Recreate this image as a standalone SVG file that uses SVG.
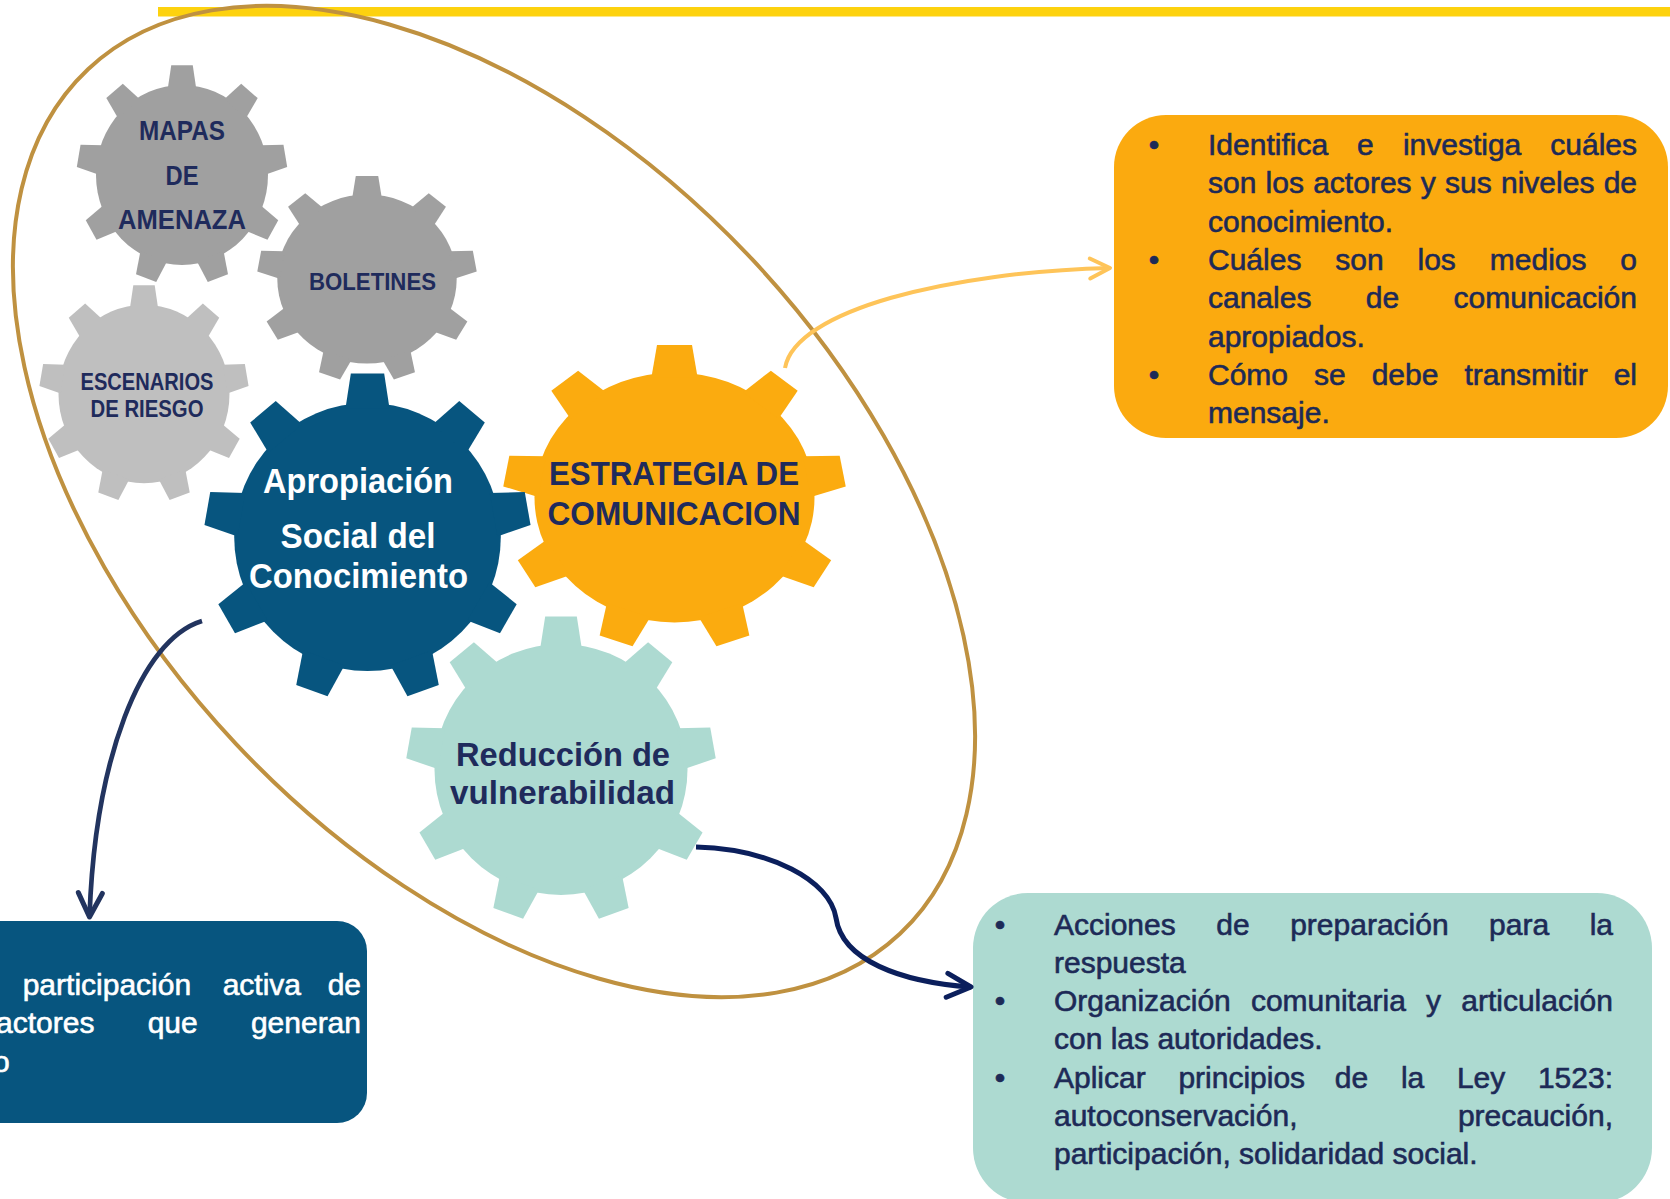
<svg xmlns="http://www.w3.org/2000/svg" width="1670" height="1199" viewBox="0 0 1670 1199">
<style>
.gt{font-family:"Liberation Sans",Arial,sans-serif;font-weight:bold;text-anchor:middle;fill:#1F2B5C}
.gw{fill:#FFFFFF}
.bt{font-family:"Liberation Sans",Arial,sans-serif;font-size:30px;fill:#1D2A57;stroke:#1D2A57;stroke-width:0.6px}
.bw{fill:#FFFFFF;stroke:#FFFFFF}
.e{text-anchor:end}
.m{text-anchor:middle}
.conn{fill:none;stroke-linecap:butt}
</style>
<defs>
<g id="gear">
<circle r="100"/>
<polygon id="tooth" points="-16.5,-96 -12.5,-122 12.5,-122 16.5,-96"/>
<use href="#tooth" transform="rotate(40)"/>
<use href="#tooth" transform="rotate(80)"/>
<use href="#tooth" transform="rotate(120)"/>
<use href="#tooth" transform="rotate(160)"/>
<use href="#tooth" transform="rotate(200)"/>
<use href="#tooth" transform="rotate(240)"/>
<use href="#tooth" transform="rotate(280)"/>
<use href="#tooth" transform="rotate(320)"/>
</g>
<marker id="arrOrange" markerUnits="userSpaceOnUse" viewBox="-30 -16 34 32" markerWidth="34" markerHeight="32" refX="0" refY="0" orient="auto">
<path d="M-20,-10 L0,0 L-20,10" fill="none" stroke="#FEC459" stroke-width="4" stroke-linecap="round" stroke-linejoin="round"/>
</marker>
<marker id="arrNavy" markerUnits="userSpaceOnUse" viewBox="-30 -16 34 32" markerWidth="34" markerHeight="32" refX="0" refY="0" orient="auto">
<path d="M-24,-12 L0,0 L-24,12" fill="none" stroke="#22345F" stroke-width="5" stroke-linecap="round" stroke-linejoin="round"/>
</marker>
<marker id="arrNavy2" markerUnits="userSpaceOnUse" viewBox="-30 -16 34 32" markerWidth="34" markerHeight="32" refX="0" refY="0" orient="auto">
<path d="M-24,-12 L0,0 L-24,12" fill="none" stroke="#0B1F5C" stroke-width="5" stroke-linecap="round" stroke-linejoin="round"/>
</marker>
</defs>

<rect id="top-bar" x="158" y="7" width="1512" height="9.5" fill="#FDD20F"/>

<g id="gear-mapas">
<use href="#gear" transform="translate(182 175) scale(0.86 0.9)" fill="#A0A0A0"/>
<text class="gt" x="182" y="140" font-size="28" textLength="86" lengthAdjust="spacingAndGlyphs">MAPAS</text>
<text class="gt" x="182" y="184.5" font-size="28" textLength="33" lengthAdjust="spacingAndGlyphs">DE</text>
<text class="gt" x="182" y="229" font-size="28" textLength="128" lengthAdjust="spacingAndGlyphs">AMENAZA</text>
</g>

<g id="gear-boletines">
<use href="#gear" transform="translate(367 279) scale(0.897 0.845)" fill="#A0A0A0"/>
<text class="gt" x="372.5" y="290" font-size="24" textLength="127" lengthAdjust="spacingAndGlyphs">BOLETINES</text>
</g>

<g id="gear-escenarios">
<use href="#gear" transform="translate(144 394) scale(0.855 0.892)" fill="#BFBFBF"/>
<text class="gt" x="147" y="390" font-size="23" textLength="133" lengthAdjust="spacingAndGlyphs">ESCENARIOS</text>
<text class="gt" x="147" y="416.5" font-size="23" textLength="113" lengthAdjust="spacingAndGlyphs">DE RIESGO</text>
</g>

<g id="gear-estrategia">
<use href="#gear" transform="translate(674.5 497.5) scale(1.4 1.25)" fill="#FBAB0F"/>
<text class="gt" x="674" y="485" font-size="33" textLength="250" lengthAdjust="spacingAndGlyphs">ESTRATEGIA DE</text>
<text class="gt" x="674" y="525" font-size="33" textLength="253" lengthAdjust="spacingAndGlyphs">COMUNICACION</text>
</g>

<g id="gear-apropiacion">
<use href="#gear" transform="translate(367.5 537) scale(1.333 1.34)" fill="#07557F"/>
<text class="gt gw" x="358" y="493" font-size="35" textLength="190" lengthAdjust="spacingAndGlyphs">Apropiación</text>
<text class="gt gw" x="358" y="548" font-size="35" textLength="155" lengthAdjust="spacingAndGlyphs">Social del</text>
<text class="gt gw" x="358.5" y="588" font-size="35" textLength="219" lengthAdjust="spacingAndGlyphs">Conocimiento</text>
</g>

<g id="gear-reduccion">
<use href="#gear" transform="translate(561 769.5) scale(1.265 1.255)" fill="#ADDAD1"/>
<text class="gt" x="563" y="765.5" font-size="33" textLength="214" lengthAdjust="spacingAndGlyphs">Reducción de</text>
<text class="gt" x="562.5" y="804" font-size="33" textLength="225" lengthAdjust="spacingAndGlyphs">vulnerabilidad</text>
</g>

<ellipse id="group-ellipse" cx="494" cy="501.5" rx="593" ry="354" transform="rotate(46.8 494 501.5)" fill="none" stroke="#BF9140" stroke-width="4"/>

<g id="box-estrategia">
<rect x="1114" y="115" width="554" height="323" rx="52" fill="#FBAA0F"/>
<text class="bt m" x="1154" y="155">•</text>
<text class="bt m" x="1154" y="269.9">•</text>
<text class="bt m" x="1154" y="384.8">•</text>
<text class="bt" y="155"><tspan x="1208">Identifica</tspan><tspan x="1357.1">e</tspan><tspan x="1402.9">investiga</tspan><tspan class="e" x="1637">cuáles</tspan></text>
<text class="bt" y="193.3"><tspan x="1208">son</tspan><tspan x="1265.6">los</tspan><tspan x="1313.2">actores</tspan><tspan x="1420.8">y</tspan><tspan x="1445.1">sus</tspan><tspan x="1501">niveles</tspan><tspan class="e" x="1637">de</tspan></text>
<text class="bt" x="1208" y="231.6">conocimiento.</text>
<text class="bt" y="269.9"><tspan x="1208">Cuáles</tspan><tspan x="1335.3">son</tspan><tspan x="1417.5">los</tspan><tspan x="1489.8">medios</tspan><tspan class="e" x="1637">o</tspan></text>
<text class="bt" y="308.2"><tspan x="1208">canales</tspan><tspan x="1365.8">de</tspan><tspan class="e" x="1637">comunicación</tspan></text>
<text class="bt" x="1208" y="346.5">apropiados.</text>
<text class="bt" y="384.8"><tspan x="1208">Cómo</tspan><tspan x="1314">se</tspan><tspan x="1371.7">debe</tspan><tspan x="1464.4">transmitir</tspan><tspan class="e" x="1637">el</tspan></text>
<text class="bt" x="1208" y="423.1">mensaje.</text>
</g>

<g id="box-reduccion">
<rect x="973" y="893" width="679" height="310" rx="55" fill="#ADDAD1"/>
<text class="bt m" x="1000" y="934.5">•</text>
<text class="bt m" x="1000" y="1011.1">•</text>
<text class="bt m" x="1000" y="1087.7">•</text>
<text class="bt" y="934.5"><tspan x="1054">Acciones</tspan><tspan x="1216.3">de</tspan><tspan x="1290.2">preparación</tspan><tspan x="1489.1">para</tspan><tspan class="e" x="1613">la</tspan></text>
<text class="bt" x="1054" y="972.8">respuesta</text>
<text class="bt" y="1011.1"><tspan x="1054">Organización</tspan><tspan x="1250.9">comunitaria</tspan><tspan x="1426.1">y</tspan><tspan class="e" x="1613">articulación</tspan></text>
<text class="bt" x="1054" y="1049.4">con las autoridades.</text>
<text class="bt" y="1087.7"><tspan x="1054">Aplicar</tspan><tspan x="1178.4">principios</tspan><tspan x="1334.8">de</tspan><tspan x="1400.9">la</tspan><tspan x="1456.9">Ley</tspan><tspan class="e" x="1613">1523:</tspan></text>
<text class="bt" y="1126"><tspan x="1054">autoconservación,</tspan><tspan class="e" x="1613">precaución,</tspan></text>
<text class="bt" x="1054" y="1164.3">participación, solidaridad social.</text>
</g>

<g id="box-apropiacion">
<rect x="-120" y="921" width="487" height="202" rx="30" fill="#07557F"/>
<text class="bt bw" y="995"><tspan x="22.7">participación</tspan><tspan x="222.7">activa</tspan><tspan class="e" x="361">de</tspan></text>
<text class="bt bw" y="1033.3"><tspan x="-4">actores</tspan><tspan x="147.7">que</tspan><tspan class="e" x="361">generan</tspan></text>
<text class="bt bw" x="-7" y="1071.6">o</text>
</g>

<g id="connectors">
<path class="conn" d="M785,368 C795,310 950,272 1110,268" stroke="#FEC459" stroke-width="4" marker-end="url(#arrOrange)"/>
<path class="conn" d="M202,621 C140,640 95,760 89.5,917" stroke="#22345F" stroke-width="4.7" marker-end="url(#arrNavy)"/>
<path class="conn" d="M696,847 C770,849 830,880 836,918 C842,960 900,982 971,987" stroke="#0B1F5C" stroke-width="5" marker-end="url(#arrNavy2)"/>
</g>
</svg>
